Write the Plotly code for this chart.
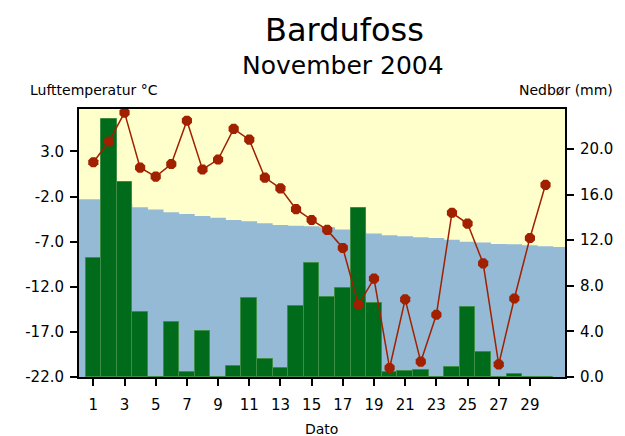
import plotly.graph_objects as go

days = list(range(1, 31))
temperature = [1.8, 4.1, 7.3, 1.2, 0.2, 1.6, 6.4, 1.0, 2.1, 5.5,
               4.3, 0.1, -1.1, -3.4, -4.6, -5.7, -7.7, -14.0, -11.1, -21.0,
               -13.4, -20.3, -15.1, -3.8, -5.0, -9.4, -20.6, -13.3, -6.6, -0.7]
precip = [10.4, 22.6, 17.1, 5.7, 0.0, 4.8, 0.4, 4.0, 0.0, 1.0,
          6.9, 1.6, 0.8, 6.2, 10.0, 7.0, 7.8, 14.8, 6.5, 0.45,
          0.5, 0.65, 0.0, 0.85, 6.1, 2.2, 0.0, 0.3, 0.0, 0.0]
normal_days = list(range(1, 32))
normal_temp = [-2.3, -2.5, -2.8, -3.2, -3.45, -3.75, -3.95, -4.15, -4.35, -4.6,
               -4.75, -4.95, -5.15, -5.25, -5.3, -5.4, -5.65, -5.9, -6.1, -6.3,
               -6.4, -6.5, -6.6, -6.8, -7.0, -7.1, -7.25, -7.3, -7.4, -7.5, -7.6]
temp_ticks = [-22, -17, -12, -7, -2, 3]
precip_ticks = [0, 4, 8, 12, 16, 20]
x_ticks = list(range(1, 30, 2))

TEMP_RANGE = [-22, 7.7]
PRECIP_RANGE = [0, 23.5]
FONT = "DejaVu Sans"

# extend the normal series half a day beyond the ends so it fills the frame
nx = [normal_days[0] - 1] + normal_days + [normal_days[-1] + 1]
ny = [normal_temp[0]] + normal_temp + [normal_temp[-1]]
base = [TEMP_RANGE[0]] * len(nx)

fig = go.Figure()
fig.add_trace(go.Scatter(x=nx, y=base, mode="lines", line=dict(width=0, shape="hvh"),
                         hoverinfo="skip", showlegend=False, yaxis="y"))
fig.add_trace(go.Scatter(x=nx, y=ny, mode="lines", fill="tonexty",
                         fillcolor="#95BAD5", line=dict(width=0, shape="hvh"),
                         showlegend=False, yaxis="y"))
fig.add_trace(go.Bar(x=days, y=precip, width=1, marker=dict(color="#006B1A",
                     line=dict(color="#3E8E45", width=1)),
                     showlegend=False, yaxis="y2"))
fig.add_trace(go.Scatter(x=days, y=temperature, mode="lines+markers",
                         line=dict(color="#A02000", width=1.5),
                         marker=dict(color="#A02000", size=11, symbol="octagon"),
                         showlegend=False, yaxis="y3"))

tickfont = dict(family=FONT, size=15, color="black")
# the page body has an 8px margin, so the figure is sized to fill the rest
fig.update_layout(
    width=617, height=428,
    margin=dict(l=71, r=57, t=101, b=59),
    paper_bgcolor="white", plot_bgcolor="#FFFFCC",
    bargap=0,
    font=dict(family=FONT, color="black"),
    xaxis=dict(range=[0.08, 31.25], tickvals=x_ticks, ticks="outside", ticklen=7,
               tickwidth=1.5, tickcolor="black", showgrid=False, zeroline=False,
               showline=True, linecolor="black", linewidth=2, mirror=True,
               tickfont=tickfont, ticklabelstandoff=6),
    yaxis=dict(range=TEMP_RANGE, tickvals=temp_ticks,
               ticktext=[f"{v:.1f}" for v in temp_ticks],
               ticks="outside", ticklen=7, tickwidth=1.5, tickcolor="black",
               showgrid=False, zeroline=False, showline=True, linecolor="black",
               linewidth=2, mirror=True, tickfont=tickfont, ticklabelstandoff=3),
    yaxis2=dict(range=PRECIP_RANGE, tickvals=precip_ticks,
                ticktext=[f"{v:.1f}" for v in precip_ticks],
                overlaying="y", side="right", ticks="outside", ticklen=7,
                tickwidth=1.5, tickcolor="black", showgrid=False, zeroline=False,
                showline=True, linecolor="black", linewidth=2,
                tickfont=tickfont, ticklabelstandoff=3),
    yaxis3=dict(range=TEMP_RANGE, overlaying="y", visible=False),
    annotations=[
        dict(text="Bardufoss", x=0.546, y=1.295, xref="paper", yref="paper",
             xanchor="center", yanchor="middle",
             showarrow=False, font=dict(family=FONT, size=32, color="black")),
        dict(text="November 2004", x=0.544, y=1.164, xref="paper", yref="paper",
             xanchor="center", yanchor="middle",
             showarrow=False, font=dict(family=FONT, size=25, color="black")),
        dict(text="Lufttemperatur °C", x=-0.104, y=1.071, xref="paper", yref="paper",
             xanchor="left", yanchor="middle",
             showarrow=False, font=dict(family=FONT, size=14, color="black")),
        dict(text="Nedbør (mm)", x=1.102, y=1.071, xref="paper", yref="paper",
             xanchor="right", yanchor="middle",
             showarrow=False, font=dict(family=FONT, size=14, color="black")),
        dict(text="Dato", x=0.499, y=-0.158, xref="paper", yref="paper",
             xanchor="center", yanchor="top",
             showarrow=False, font=dict(family=FONT, size=14, color="black")),
    ],
)

fig.write_html("out.html")
